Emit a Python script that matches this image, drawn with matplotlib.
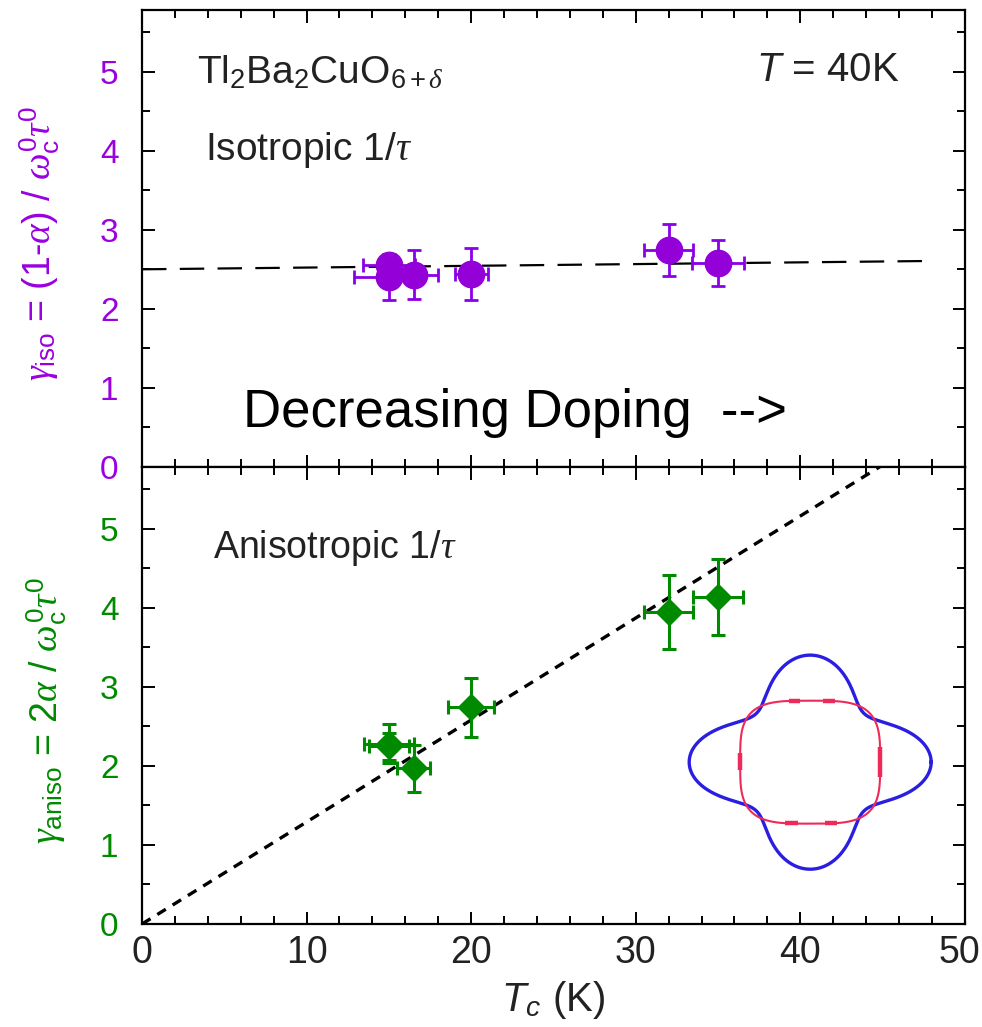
import numpy as np
import matplotlib
matplotlib.use("Agg")
import matplotlib.pyplot as plt
import matplotlib.transforms as mtransforms
from matplotlib.ticker import MultipleLocator

plt.rcParams.update({
    "font.family": ["Liberation Sans", "DejaVu Sans"],
    "mathtext.fontset": "custom",
    "mathtext.rm": "Liberation Sans",
    "mathtext.it": "Liberation Serif:italic",
    "mathtext.sf": "Liberation Sans:italic",
})

# ---- data -----------------------------------------------------------
tc = [15.0, 15.0, 16.5, 20.0, 32.0, 35.0]
tc_err = [1.6, 2.1, 1.5, 1.0, 1.5, 1.6]

gamma_iso = [2.55, 2.40, 2.43, 2.44, 2.74, 2.58]
gamma_iso_err = [0.12, 0.29, 0.31, 0.33, 0.33, 0.29]

gamma_aniso = [2.28, 2.25, 1.97, 2.74, 3.95, 4.14]
gamma_aniso_err = [0.25, 0.17, 0.30, 0.37, 0.47, 0.48]
tc_err_aniso = [1.5, 1.2, 1.0, 1.4, 1.5, 1.5]

iso_fit = (2.50, 0.0022)        # intercept, slope
aniso_slope = 0.129
fit_tc = [0.0, 48.0]

x_ticks = [0, 10, 20, 30, 40, 50]
y_ticks = [0, 1, 2, 3, 4, 5]

PURPLE = "#9a00e0"
GREEN = "#008a00"
TEXT = "#222222"

fig = plt.figure(figsize=(9.82, 10.27), dpi=100)
ax1 = fig.add_axes([0.1446, 0.5453, 0.838, 0.4450])
ax2 = fig.add_axes([0.1446, 0.1003, 0.838, 0.4450])

for ax, col in ((ax1, PURPLE), (ax2, GREEN)):
    ax.set_xlim(0, 50)
    ax.set_ylim(0, 5.78)
    ax.set_xticks(x_ticks, labels=[str(v) for v in x_ticks])
    ax.set_yticks(y_ticks, labels=[str(v) for v in y_ticks])
    ax.xaxis.set_minor_locator(MultipleLocator(2))
    ax.yaxis.set_minor_locator(MultipleLocator(0.5))
    ax.tick_params(which="both", direction="in", top=True, right=True,
                   width=1.4)
    ax.tick_params(which="major", length=9)
    ax.tick_params(which="minor", length=6)
    ax.tick_params(axis="y", labelsize=24, labelcolor=col, pad=17)
    ax.tick_params(axis="x", labelsize=27, pad=8, labelcolor=TEXT)
    for s in ax.spines.values():
        s.set_linewidth(1.6)

ax1.tick_params(axis="x", labelbottom=False)

# keep the last x tick label inside the canvas
last = ax2.xaxis.get_major_ticks()[-1].label1
last.set_transform(last.get_transform() +
                   mtransforms.ScaledTranslation(-0.05, 0, fig.dpi_scale_trans))

# ---- top panel: isotropic scattering ---------------------------------
fx = np.array(fit_tc)
ax1.plot(fx, iso_fit[0] + iso_fit[1] * fx, color="black", lw=1.6,
         dashes=(11, 6), zorder=1)
ax1.errorbar(tc, gamma_iso, yerr=gamma_iso_err, xerr=tc_err, fmt="o",
             ms=19, color="#9400d8", mec="#9400d8", ecolor="#8a00e8",
             elinewidth=2, capsize=5, capthick=2, zorder=3)

fig.text(197 / 982, 1 - 72 / 1027,
         r"Tl$_2$Ba$_2$CuO$_{6+\delta}$",
         fontsize=28, ha="left", va="center", color=TEXT)
fig.text(205 / 982, 1 - 150 / 1027, r"Isotropic 1/$\tau$",
         fontsize=28, ha="left", va="center", color=TEXT)
fig.text(900 / 982, 1 - 70 / 1027, r"$\mathsf{T}$ = 40K",
         fontsize=29, ha="right", va="center", color=TEXT)
fig.text(243 / 982, 1 - 413 / 1027, "Decreasing Doping  -->",
         fontsize=38, ha="left", va="center", color="black")

# ---- bottom panel: anisotropic scattering -----------------------------
ax2.plot([0, 50], [0, 50 * aniso_slope], color="black", lw=2.4,
         dashes=(3.0, 2.4), zorder=1)
ax2.errorbar(tc, gamma_aniso, yerr=gamma_aniso_err, xerr=tc_err_aniso,
             fmt="D", ms=13, color=GREEN, mec=GREEN, ecolor=GREEN,
             elinewidth=2.2, capsize=5, capthick=2.2, zorder=3)
fig.text(213 / 982, 1 - 548 / 1027, r"Anisotropic 1/$\tau$",
         fontsize=27, ha="left", va="center", color=TEXT)

ax2.set_xlabel(r"$\mathsf{T}_{\mathsf{c}}$ (K)", fontsize=29, labelpad=6,
               color=TEXT)

# axis titles
fig.text(40 / 982, 1 - 243 / 1027,
         r"$\gamma_{\rm iso}$ = (1-$\alpha$) / "
         r"$\omega_{\rm c}^{0}\tau^{0}$",
         rotation=90, ha="center", va="center", fontsize=27, color=PURPLE)
fig.text(47 / 982, 1 - 711 / 1027,
         r"$\gamma_{\rm aniso}$ = 2$\alpha$ / "
         r"$\omega_{\rm c}^{0}\tau^{0}$",
         rotation=90, ha="center", va="center", fontsize=27, color=GREEN)

# ---- inset: Fermi-surface scattering-rate sketch ----------------------
ins = ax2.inset_axes([0.654, 0.096, 0.322, 0.514])
ins.set_xlim(-130, 135)
ins.set_ylim(-118, 117)
ins.axis("off")

theta = np.linspace(0, 2 * np.pi, 1441)
r_clover = 99 + 22 * np.cos(4 * theta)
ins.plot(r_clover * np.cos(theta), 0.885 * r_clover * np.sin(theta),
         color="#2a1fe0", lw=2.4)

n = 3.6
c, s = np.cos(theta), np.sin(theta)
sx = 70 * np.sign(c) * np.abs(c) ** (2 / n)
sy = 61.5 * np.sign(s) * np.abs(s) ** (2 / n)
ins.plot(sx, sy, color="#ee2a5a", lw=1.5)

# thicker marks on the rounded square
top_marks = [(-21, -10), (13, 25)]
bot_marks = [(-25, -12), (15, 27)]
for a, b in top_marks:
    ins.plot([a, b], [61.2, 61.2], color="#ee2a5a", lw=3.2,
             solid_capstyle="butt")
for a, b in bot_marks:
    ins.plot([a, b], [-61.2, -61.2], color="#ee2a5a", lw=3.2,
             solid_capstyle="butt")
ins.plot([-69.7, -69.7], [-8, 9], color="#ee2a5a", lw=3.2,
         solid_capstyle="butt")
ins.plot([69.7, 69.7], [-15, 15], color="#ee2a5a", lw=3.2,
         solid_capstyle="butt")

fig.savefig("out.png", dpi=100)
